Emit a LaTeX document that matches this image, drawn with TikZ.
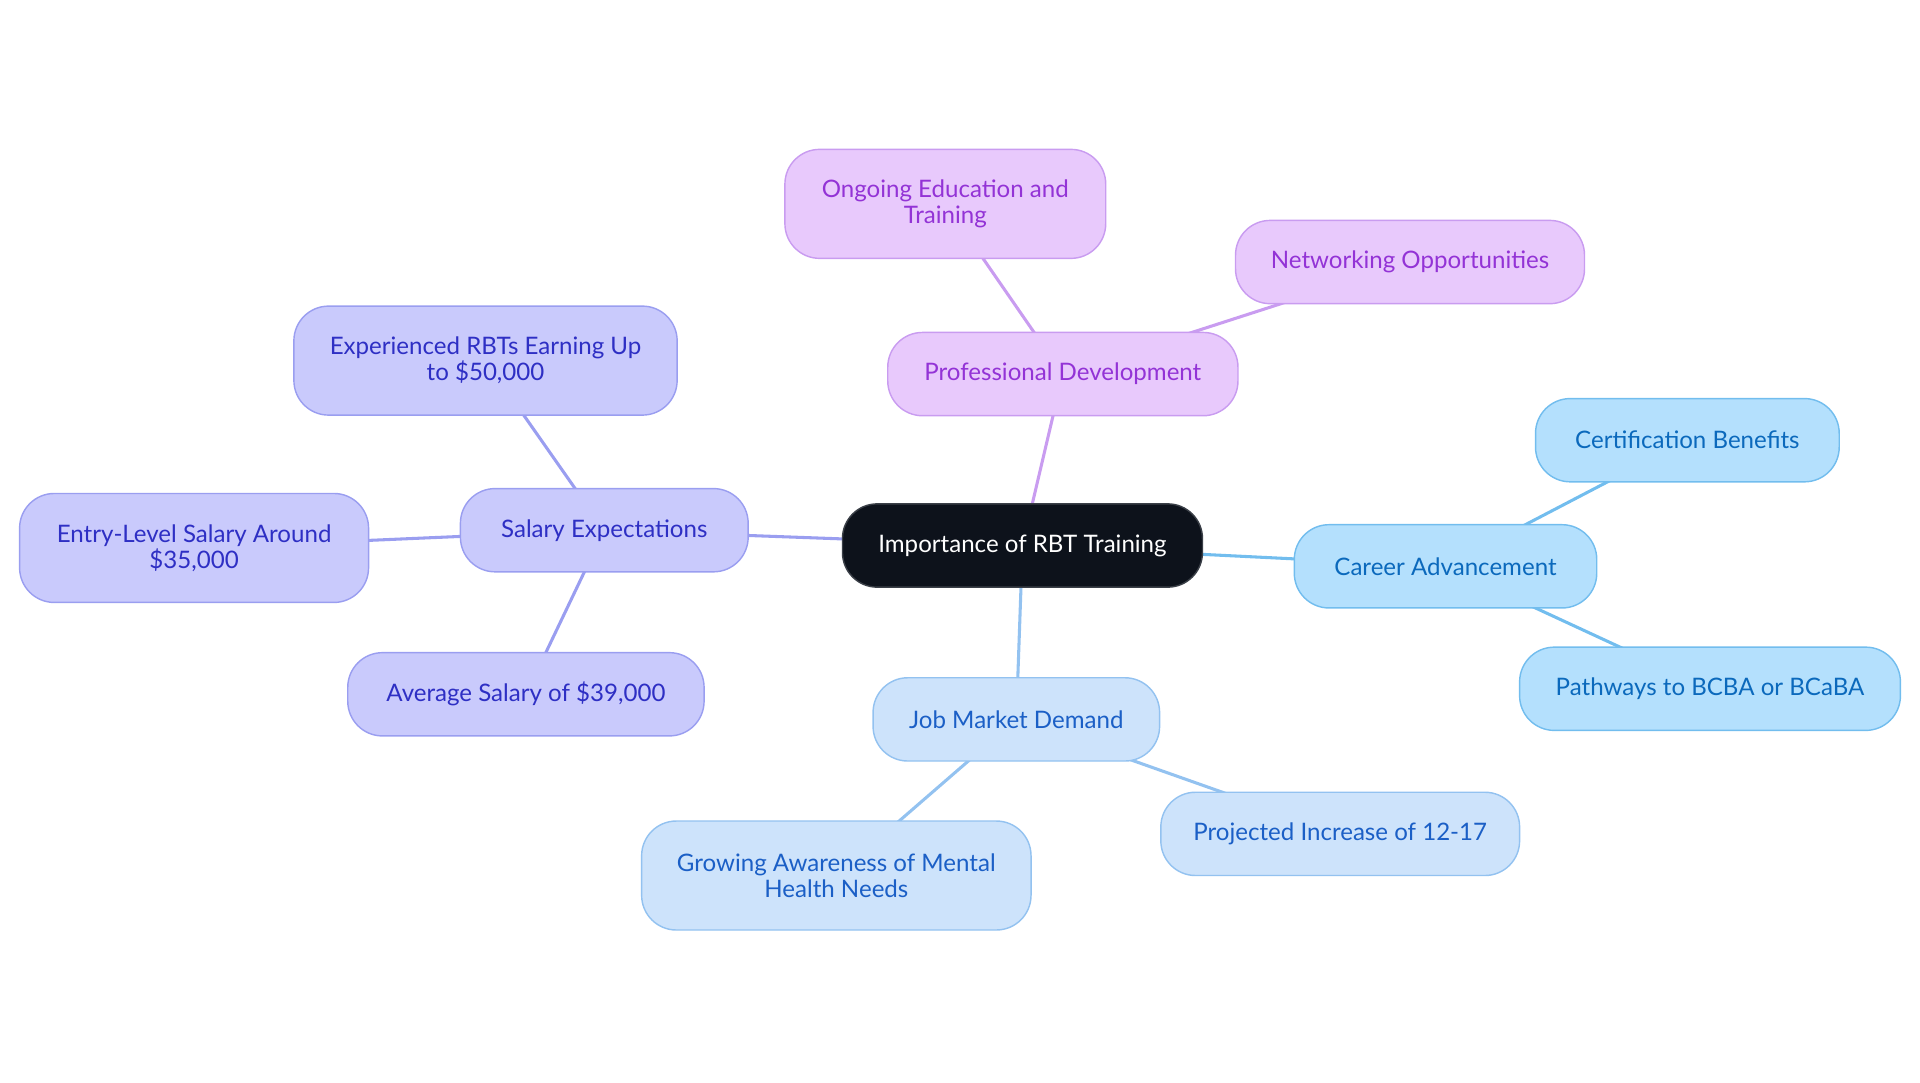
\documentclass[tikz,border=0pt]{standalone}
\usepackage{fontspec}
\setmainfont{Lato}
\usetikzlibrary{backgrounds}
\definecolor{rootfill}{HTML}{0D121B}
\definecolor{rootdraw}{HTML}{3A3F47}
\definecolor{salfill}{HTML}{C9CAFC}
\definecolor{saldraw}{HTML}{9A9EF0}
\definecolor{saltext}{HTML}{2E2FC4}
\definecolor{profill}{HTML}{E8C9FC}
\definecolor{prodraw}{HTML}{C99CF0}
\definecolor{protext}{HTML}{9333D6}
\definecolor{carfill}{HTML}{B4E0FD}
\definecolor{cardraw}{HTML}{72BDEE}
\definecolor{cartext}{HTML}{0B69BC}
\definecolor{jobfill}{HTML}{CDE3FB}
\definecolor{jobdraw}{HTML}{93C2F0}
\definecolor{jobtext}{HTML}{1B5FC6}
\tikzset{
  mm/.style={rounded corners=17pt, line width=0.7pt, align=center, inner sep=0pt,
    font=\fontsize{11.8}{12.6}\selectfont},
  one/.style={mm, minimum height=40.8pt},
  two/.style={mm, minimum height=53.4pt},
  rootbox/.style={one, fill=rootfill, draw=rootdraw, text=white},
  salbox/.style={fill=salfill, draw=saldraw, text=saltext},
  probox/.style={fill=profill, draw=prodraw, text=protext},
  carbox/.style={fill=carfill, draw=cardraw, text=cartext},
  jobbox/.style={fill=jobfill, draw=jobdraw, text=jobtext},
  edge/.style={line width=1.5pt},
}
\begin{document}
\begin{tikzpicture}[x=0.6pt, y=-0.6pt]
\useasboundingbox (0,0) rectangle (1568,884);
% nodes
\node[rootbox, minimum width=176.4pt] (root) at (835,445.5) {Importance of RBT Training};
\node[one, salbox, minimum width=141pt] (sal) at (493.5,433) {Salary Expectations};
\node[two, salbox, minimum width=187.8pt] (exp) at (396.5,294.5) {Experienced RBTs Earning Up\\to \$50,000};
\node[two, salbox, minimum width=171pt] (entry) at (158.5,447.5) {Entry-Level Salary Around\\\$35,000};
\node[one, salbox, minimum width=174.6pt] (avg) at (429.5,567) {Average Salary of \$39,000};
\node[one, probox, minimum width=171.6pt] (prof) at (868,305.5) {Professional Development};
\node[two, probox, minimum width=157.2pt] (ongo) at (772,166.5) {Ongoing Education and\\Training};
\node[one, probox, minimum width=171pt] (net) at (1151.5,214) {Networking Opportunities};
\node[one, carbox, minimum width=148.2pt] (car) at (1180.5,462.5) {Career Advancement};
\node[one, carbox, minimum width=148.8pt] (cert) at (1378,359.5) {Certification Benefits};
\node[one, carbox, minimum width=186.6pt] (path) at (1396.5,562.5) {Pathways to BCBA or BCaBA};
\node[one, jobbox, minimum width=140.4pt] (job) at (830,587.5) {Job Market Demand};
\node[two, jobbox, minimum width=190.8pt] (grow) at (683,715) {Growing Awareness of Mental\\Health Needs};
\node[one, jobbox, minimum width=175.8pt] (proj) at (1094.5,681) {Projected Increase of 12-17};
% connectors
\begin{scope}[on background layer]
\draw[edge, draw=saldraw] (root.center) -- (sal.center);
\draw[edge, draw=saldraw] (sal.center) -- (exp.center);
\draw[edge, draw=saldraw] (sal.center) -- (entry.center);
\draw[edge, draw=saldraw] (sal.center) -- (avg.center);
\draw[edge, draw=prodraw] (root.center) -- (prof.center);
\draw[edge, draw=prodraw] (prof.center) -- (ongo.center);
\draw[edge, draw=prodraw] (prof.center) -- (net.center);
\draw[edge, draw=cardraw] (root.center) -- (car.center);
\draw[edge, draw=cardraw] (car.center) -- (cert.center);
\draw[edge, draw=cardraw] (car.center) -- (path.center);
\draw[edge, draw=jobdraw] (root.center) -- (job.center);
\draw[edge, draw=jobdraw] (job.center) -- (grow.center);
\draw[edge, draw=jobdraw] (job.center) -- (proj.center);
\end{scope}
\end{tikzpicture}
\end{document}
